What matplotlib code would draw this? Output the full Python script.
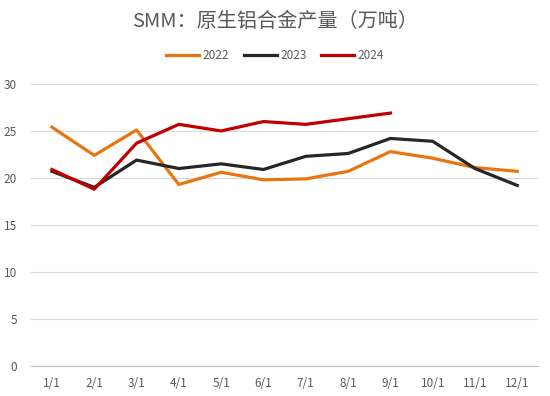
import matplotlib.pyplot as plt

plt.rcParams["font.family"] = ["Noto Sans CJK SC", "DejaVu Sans"]

months = ["1/1", "2/1", "3/1", "4/1", "5/1", "6/1", "7/1", "8/1", "9/1", "10/1", "11/1", "12/1"]
y2022 = [25.4, 22.4, 25.1, 19.3, 20.6, 19.8, 19.9, 20.7, 22.8, 22.1, 21.1, 20.7]
y2023 = [20.7, 19.0, 21.9, 21.0, 21.5, 20.9, 22.3, 22.6, 24.2, 23.9, 21.0, 19.2]
y2024 = [20.9, 18.8, 23.7, 25.7, 25.0, 26.0, 25.7, 26.3, 26.9]

fig = plt.figure(figsize=(5.5, 3.96), dpi=100)
ax = fig.add_axes([0.056, 0.076, 0.923, 0.712])

x = list(range(len(months)))
ax.plot(x, y2022, color="#E8750F", lw=2.3, label="2022")
ax.plot(x, y2023, color="#262626", lw=2.3, label="2023")
ax.plot(x[:len(y2024)], y2024, color="#C00000", lw=2.3, label="2024")

ax.set_xlim(-0.5, 11.5)
ax.set_ylim(0, 30)
ax.set_yticks(range(0, 31, 5))
ax.set_xticks(x)
ax.set_xticklabels(months)
ax.yaxis.grid(True, color="#D9D9D9", lw=0.8)
ax.set_axisbelow(True)
for s in ["top", "right", "left"]:
    ax.spines[s].set_visible(False)
ax.spines["bottom"].set_color("#BFBFBF")
ax.tick_params(axis="both", length=0, colors="#595959", labelsize=8.5)
ax.tick_params(axis="x", pad=8)
ax.tick_params(axis="y", pad=10)

fig.text(0.5, 0.945, "SMM：原生铝合金产量（万吨）", ha="center", va="center",
         fontsize=14.5, color="#595959")
fig.legend(loc="center", bbox_to_anchor=(0.5, 0.86), ncol=3, frameon=False,
           fontsize=8.5, handlelength=2.8, columnspacing=1.2, handletextpad=0.3,
           labelcolor="#595959")

fig.savefig("out.png", dpi=100)
